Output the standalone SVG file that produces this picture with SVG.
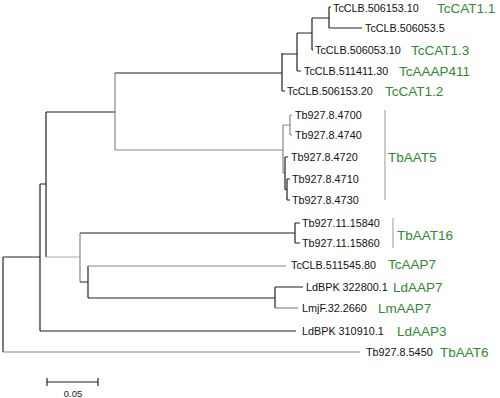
<svg xmlns="http://www.w3.org/2000/svg" width="500" height="398" viewBox="0 0 500 398">
<style>
.d{stroke:#222;stroke-width:1.2;fill:none}
.g{stroke:#888;stroke-width:1.2;fill:none}
.lg{stroke:#aaa;stroke-width:1.2;fill:none}
.b{stroke:#999;stroke-width:1;fill:none}
text{font-family:"Liberation Sans",Arial,sans-serif}
.t{font-size:10.8px;fill:#111;dominant-baseline:central}
.c{font-size:13.5px;fill:#2e8b2e;dominant-baseline:central}
</style>
<rect width="500" height="398" fill="#fff"/>
<g id="connectors">
<path class="d" d="M3,257V352M3,257H40"/>
<path class="g" d="M3,352H360"/>
<path class="d" d="M40,184V331M40,331H296M40,184H46"/>
<path class="d" d="M46,112V257M46,112H115"/>
<path class="g" d="M115,73V150M115,150H283"/>
<path class="d" d="M115,73H282"/>
<path class="d" d="M282,53V91M282,91H285M282,54H297"/>
<path class="d" d="M297,33V71M297,71H301M297,33H312"/>
<path class="d" d="M312,18V50M312,50H313M312,18H329"/>
<path class="d" d="M329,7V28M329,7H331M329,28H362"/>
<path class="g" d="M283,125V173M283,125H290M283,173H285"/>
<path class="g" d="M290,115V135M290,115H292M290,135H292"/>
<path class="d" d="M285,157V189.5M285,157H288M285,189.5H287"/>
<path class="d" d="M287,179V200M287,179H290M287,200H290"/>
<path class="lg" d="M46,257H80"/>
<path class="g" d="M80,233V282"/>
<path class="d" d="M80,233H295M295,223V243M295,223H300M295,243H300"/>
<path class="d" d="M80,282H88M88,266V298M88,298H275"/>
<path class="g" d="M88,266H286"/>
<path class="d" d="M275,287V308M275,287H303"/>
<path class="g" d="M275,308H298"/>
<path class="b" d="M385,110V200M393,218V248"/>
<path class="d" d="M47,382H98M47,378V386M98,378V386"/>
</g>
<g id="leaves">
<text class="t" x="333" y="8">TcCLB.506153.10</text>
<text class="t" x="365" y="28">TcCLB.506053.5</text>
<text class="t" x="315" y="50">TcCLB.506053.10</text>
<text class="t" x="304" y="71">TcCLB.511411.30</text>
<text class="t" x="287" y="91">TcCLB.506153.20</text>
<text class="t" x="295" y="115">Tb927.8.4700</text>
<text class="t" x="295" y="135">Tb927.8.4740</text>
<text class="t" x="291" y="157">Tb927.8.4720</text>
<text class="t" x="292" y="179">Tb927.8.4710</text>
<text class="t" x="292" y="200">Tb927.8.4730</text>
<text class="t" x="302" y="223">Tb927.11.15840</text>
<text class="t" x="302" y="243">Tb927.11.15860</text>
<text class="t" x="291" y="265">TcCLB.511545.80</text>
<text class="t" x="306" y="287">LdBPK 322800.1</text>
<text class="t" x="302" y="308">LmjF.32.2660</text>
<text class="t" x="302" y="331">LdBPK 310910.1</text>
<text class="t" x="366" y="352">Tb927.8.5450</text>
</g>
<g id="groups">
<text class="c" x="437" y="8">TcCAT1.1</text>
<text class="c" x="411" y="50">TcCAT1.3</text>
<text class="c" x="399" y="71">TcAAAP411</text>
<text class="c" x="385" y="91">TcCAT1.2</text>
<text class="c" x="388" y="157">TbAAT5</text>
<text class="c" x="397" y="235">TbAAT16</text>
<text class="c" x="388" y="264">TcAAP7</text>
<text class="c" x="393" y="287">LdAAP7</text>
<text class="c" x="378" y="308">LmAAP7</text>
<text class="c" x="397" y="331">LdAAP3</text>
<text class="c" x="440" y="352">TbAAT6</text>
</g>
<g id="scale">
<text x="73" y="393" text-anchor="middle" dominant-baseline="central" style="font-size:9.5px;fill:#222">0.05</text>
</g>
</svg>
